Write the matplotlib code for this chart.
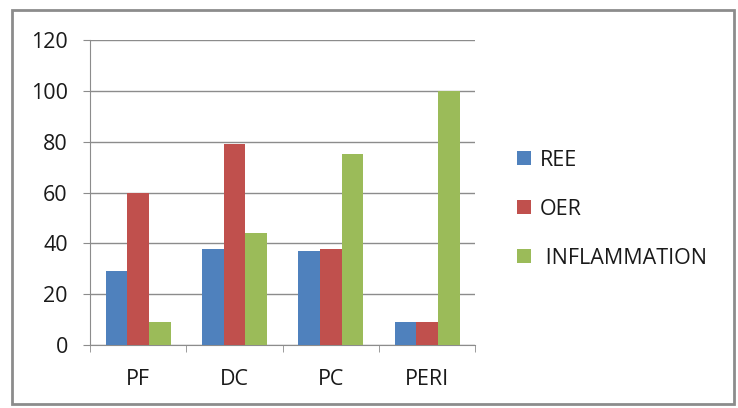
import numpy as np
import matplotlib.pyplot as plt
from matplotlib.patches import Rectangle

# ==== DATA ====
categorias = ["PF", "DC", "PC", "PERI"]
ree = [29, 38, 37, 9]
oer = [60, 79, 38, 9]
inflamacion = [9, 44, 75, 100]
series = ["REE", "OER", " INFLAMMATION"]
colores = ["#4F81BD", "#C0504D", "#9BBB59"]
yticks = [0, 20, 40, 60, 80, 100, 120]

plt.rcParams["font.family"] = ["Open Sans", "DejaVu Sans"]

fig = plt.figure(figsize=(7.38, 4.08), dpi=100)
ax = fig.add_axes([0.122, 0.154, 0.522, 0.748])

# marco exterior
fig.patches.append(Rectangle((0.016, 0.01), 0.978, 0.966, transform=fig.transFigure,
                             fill=False, edgecolor="#8c8c8c", linewidth=2.0))

x = np.arange(len(categorias))
w = 0.225
for i, (vals, lab, col) in enumerate(zip([ree, oer, inflamacion], series, colores)):
    ax.bar(x + (i - 1) * w, vals, width=w, color=col, label=lab, zorder=3)

ax.set_xlim(-0.5, len(categorias) - 0.5)
ax.set_ylim(0, 120)
ax.set_yticks(yticks)
ax.set_xticks(x)
ax.set_xticklabels(categorias)
ax.set_xticks(np.arange(-0.5, len(categorias)), minor=True)
ax.tick_params(axis="x", which="major", length=0, pad=17, labelsize=15.5, labelcolor="#1a1a1a")
ax.tick_params(axis="x", which="minor", length=5, color="#8c8c8c")
ax.tick_params(axis="y", length=5, color="#8c8c8c", labelsize=15.5, pad=11, labelcolor="#1a1a1a")
ax.grid(axis="y", color="#8c8c8c", linewidth=1.0, zorder=0)
for s in ["top", "right"]:
    ax.spines[s].set_visible(False)
for s in ["left", "bottom"]:
    ax.spines[s].set_color("#8c8c8c")

ax.legend(loc="center left", bbox_to_anchor=(1.109, 0.446), frameon=False, fontsize=15.5,
          borderaxespad=0, borderpad=0, labelcolor="#1a1a1a",
          handlelength=0.65, handleheight=0.65, handletextpad=0.4, labelspacing=1.3)

plt.savefig("out.png", dpi=100)
